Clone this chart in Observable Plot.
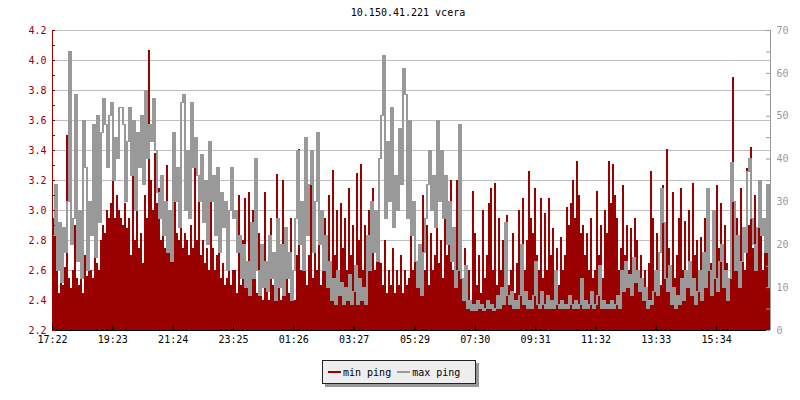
<!DOCTYPE html>
<html>
<head>
<meta charset="utf-8">
<script src="https://cdn.jsdelivr.net/npm/d3@7"></script>
<script src="https://cdn.jsdelivr.net/npm/@observablehq/plot@0.6"></script>
<style>
  body { margin: 0; background: #fff; width: 800px; height: 400px; position: relative; overflow: hidden; font-family: "DejaVu Sans Mono", monospace; }
  #title { position: absolute; left: 0; top: 7px; width: 816px; text-align: center; font-size: 10px; line-height: 12px; color: #000; }
  #chart { position: absolute; left: 0; top: 22px; }
  #legend { position: absolute; left: 322px; top: 360px; width: 154px; height: 24px; box-sizing: border-box; border: 1px solid #222; background: #eeeeee; box-shadow: 3px 3px 0 #999; display: flex; align-items: center; padding-left: 5px; font-size: 10px; color: #000; }
  .sw { display: inline-block; width: 13px; height: 2px; margin-right: 2px; }
  .item { display: inline-flex; align-items: center; margin-right: 6px; }
</style>
</head>
<body>
<div id="title"></div>
<div id="chart"></div>
<div id="legend"></div>
<script>
const titleText = "10.150.41.221 vcera";
const seriesNames = ["min ping", "max ping"];
const seriesColors = ["#990000", "#999999"];

// x-axis tick labels (24 h window starting 17:22)
const tickLabels = ["17:22","19:23","21:24","23:25","01:26","03:27","05:29","07:30","09:31","11:32","13:33","15:34"];
const leftTicks = [2.2,2.4,2.6,2.8,3.0,3.2,3.4,3.6,3.8,4.0,4.2];
const leftMinor = [2.3,2.5,2.7,2.9,3.1,3.3,3.5,3.7,3.9,4.1];
const rightTicks = [0,10,20,30,40,50,60,70];
const rightMinor = [5,15,25,35,45,55,65];

// min ping (ms, left axis)
const minPing = [
2.95,3.1,2.6,2.45,2.55,2.5,2.62,3.5,2.55,2.48,
2.6,2.9,2.55,2.5,2.62,2.45,2.7,2.56,2.8,2.6,
2.55,2.75,2.65,2.6,2.8,2.9,2.85,3.0,2.95,3.05,
3.39,2.95,3.1,3.0,2.95,2.9,3.05,2.88,2.95,2.7,
3.3,2.8,3.0,2.75,2.85,2.65,
3.1,2.95,4.07,3.2,3.0,3.38,3.05,3.15,2.8,2.9,
2.75,3.3,2.85,2.7,2.9,3.25,2.85,2.8,2.95,2.75,
2.85,2.8,2.7,2.9,2.75,3.39,2.8,3.2,2.7,2.8,
2.65,2.75,2.6,3.2,2.75,2.6,2.7,3.15,2.55,2.65,
2.5,2.55,2.75,2.5,2.6,
2.6,2.45,3.1,2.5,2.8,3.08,2.55,3.12,2.45,3.0,
2.65,2.45,2.85,2.5,2.4,3.12,2.55,2.4,2.95,2.5,
2.45,3.24,2.6,2.4,3.2,2.5,2.85,2.45,2.95,2.55,
2.4,2.7,3.41,2.6,2.85,3.35,2.5,2.7,3.18,2.55,
3.05,2.6,2.95,2.5,2.9,
2.95,2.5,3.1,2.6,3.27,2.7,3.0,2.55,3.05,2.75,
2.95,2.6,3.15,2.7,2.9,2.55,3.25,2.8,3.31,2.6,
2.9,2.5,3.0,2.7,3.15,2.6,2.85,3.2,2.65,2.5,
2.8,2.45,2.6,2.5,2.75,2.45,2.6,2.5,2.7,2.45,
2.6,2.5,2.55,3.0,2.6,
2.95,2.5,2.7,2.55,3.1,2.6,2.9,2.5,2.85,2.6,
2.7,3.19,2.65,2.8,2.55,3.2,2.7,2.9,3.2,2.6,
2.85,3.2,2.6,2.85,2.5,2.75,2.45,2.6,2.4,3.13,
2.85,2.5,2.7,2.45,3.0,2.55,2.7,3.05,3.15,2.6,
3.18,2.5,2.95,2.6,2.8,
2.55,2.97,2.5,2.6,2.85,2.45,2.65,3.0,2.7,3.08,
2.6,2.8,3.26,2.95,2.85,3.15,2.7,2.6,3.08,2.55,
2.98,2.6,3.08,2.7,2.88,2.55,2.75,2.5,2.82,2.6,
2.7,3.02,2.9,3.05,3.2,2.95,3.33,3.1,2.85,2.9,
2.7,2.85,2.6,2.95,2.55,
2.6,3.13,2.7,2.9,2.55,3.0,2.85,3.33,3.05,3.31,
3.1,2.95,2.6,2.75,3.17,2.7,2.9,2.6,2.88,2.65,
2.95,2.8,2.55,2.7,2.5,2.6,2.45,2.65,3.26,2.95,
2.6,2.85,2.7,2.5,3.17,2.6,3.41,2.75,2.6,3.12,
2.55,2.7,2.95,3.15,2.6,
2.93,2.6,3.0,2.65,3.18,2.7,2.8,2.55,2.82,2.6,
2.95,2.7,3.05,2.65,2.8,2.6,3.17,2.75,3.05,2.6,
2.9,2.65,2.55,2.9,3.89,2.65,2.95,2.7,3.15,2.8,
2.6,3.28,2.9,3.42,2.75,3.1,2.7,3.15,2.95,2.6,
2.8,3.0,2.65,2.9
];

// max ping (ms, right axis)
const maxPing = [
22,34,14,25,11,24,18,30,65,20,
26,55,16,28,12,49,38,14,30,22,
48,17,50,25,46,54,48,38,50,53,
35,45,40,52,52,48,30,44,52,36,
49,28,46,38,50,34,
56,40,48,44,54,42,32,26,36,22,
30,18,28,16,46,30,38,24,53,55,
28,42,26,53,38,45,36,30,41,25,
35,20,44,30,36,22,38,18,32,24,
30,14,28,38,26,
28,18,22,12,20,10,16,8,25,12,
40,14,8,20,10,16,9,22,12,18,
7,26,10,20,8,24,12,18,7,14,
26,42,20,30,14,45,22,34,42,18,
30,46,20,28,14,
22,10,16,7,12,6,14,8,11,6,
10,7,13,6,9,15,6,12,7,10,
6,22,14,30,18,28,16,40,50,64,
26,44,30,52,24,36,28,47,34,61,
55,26,49,22,30,
16,10,20,8,18,26,34,42,28,36,
24,49,30,42,26,36,20,30,16,24,
10,14,48,12,7,15,5,7,4.5,6,
4.5,7,5,6,4.5,5,7,5,6,4.5,
5,8,5,10,6,
25,8,6,9,5,7,5,8,20,6,
9,5,7,5,8,16,6,5,9,6,
5,8,5,7,5,14,6,5,7,5,
6,5,8,6,5,7,5,6,12,5,
7,5,6,9,5,
6,8,15,5,7,5,6,5,7,5,
6,8,5,14,9,16,10,13,8,17,
11,14,9,12,7,10,5,7,6,9,
14,8,18,33,25,12,9,15,6,10,
5,8,6,12,7,
14,10,16,8,12,6,9,14,7,18,
10,33,14,8,28,12,9,16,20,10,
14,7,12,39,30,14,22,10,16,24,
18,37,40,26,20,14,24,35,22,26,
18,34,10,8
];

const SPAN = 1440; // minutes in the window
const yMin = leftTicks[0], yMax = leftTicks[leftTicks.length - 1];
const rMax = rightTicks[rightTicks.length - 1];
const toLeft = v => yMin + v * (yMax - yMin) / rMax;

const N = minPing.length;
const data = minPing.map((v, i) => ({ t: i * SPAN / (N - 1), min: v, max: maxPing[i] }));

// the max-ping line, drawn column by column (vertical jump from previous sample + level)
const grayCols = data.map((d, i) => {
  const prev = i > 0 ? data[i - 1].max : d.max;
  return {
    x1: d.t,
    x2: i < N - 1 ? data[i + 1].t : SPAN,
    lo: toLeft(Math.min(prev, d.max)),
    hi: toLeft(Math.max(prev, d.max))
  };
});

// tick positions from labels (minutes after 17:22)
const toMin = s => { const [h, m] = s.split(":").map(Number); return h * 60 + m; };
const start = toMin(tickLabels[0]);
const tickMinutes = tickLabels.map(s => ((toMin(s) - start) % 1440 + 1440) % 1440);
const labelOf = new Map(tickMinutes.map((m, i) => [m, tickLabels[i]]));
const rightPos = rightTicks.map(toLeft);
const rightLabelOf = new Map(rightPos.map((p, i) => [p, String(rightTicks[i])]));

document.getElementById("title").textContent = titleText;

const chart = Plot.plot({
  width: 800, height: 330,
  marginTop: 8, marginBottom: 22, marginLeft: 52, marginRight: 30,
  style: { fontFamily: "'DejaVu Sans Mono', monospace", fontSize: "10px", background: "white", overflow: "visible" },
  x: { domain: [0, SPAN], label: null },
  y: { domain: [yMin, yMax], label: null },
  marks: [
    Plot.gridY(leftTicks, { stroke: "#c0c0c0", strokeOpacity: 1 }),
    Plot.areaY(data, { x: "t", y1: yMin, y2: "min", fill: seriesColors[0], curve: "step-after", shapeRendering: "crispEdges" }),
    Plot.rect(grayCols, { x1: "x1", x2: "x2", y1: "lo", y2: "hi", fill: seriesColors[1], insetTop: -0.5, insetBottom: -0.5, shapeRendering: "crispEdges" }),
    Plot.ruleY([yMin], { stroke: "#000" }),
    Plot.ruleX([0], { stroke: "#990000" }),
    Plot.ruleX([SPAN], { stroke: "#999999" }),
    Plot.ruleY(leftMinor.concat(leftTicks), { x1: 0, x2: 0, insetRight: -3, stroke: "#990000" }),
    Plot.ruleY(rightMinor.map(toLeft).concat(rightPos), { x1: SPAN, x2: SPAN, insetLeft: -4, stroke: "#999999" }),
    Plot.ruleX(tickMinutes, { y1: yMin, y2: yMin, insetTop: -5, stroke: "#000" }),
    Plot.axisY(leftTicks, { anchor: "left", label: null, tickSize: 0, tickPadding: 6, tickFormat: d => d.toFixed(1), color: "#990000" }),
    Plot.axisY(rightPos, { anchor: "right", label: null, tickSize: 0, tickPadding: 6, tickFormat: d => rightLabelOf.get(d), color: "#999999" }),
    Plot.axisX(tickMinutes, { anchor: "bottom", label: null, tickSize: 0, tickPadding: 5, tickFormat: d => labelOf.get(d), color: "#000" })
  ]
});
document.getElementById("chart").appendChild(chart);

const legend = document.getElementById("legend");
seriesNames.forEach((name, i) => {
  const item = document.createElement("span");
  item.className = "item";
  const sw = document.createElement("span");
  sw.className = "sw";
  sw.style.background = seriesColors[i];
  item.appendChild(sw);
  item.appendChild(document.createTextNode(name));
  legend.appendChild(item);
});
</script>
</body>
</html>
